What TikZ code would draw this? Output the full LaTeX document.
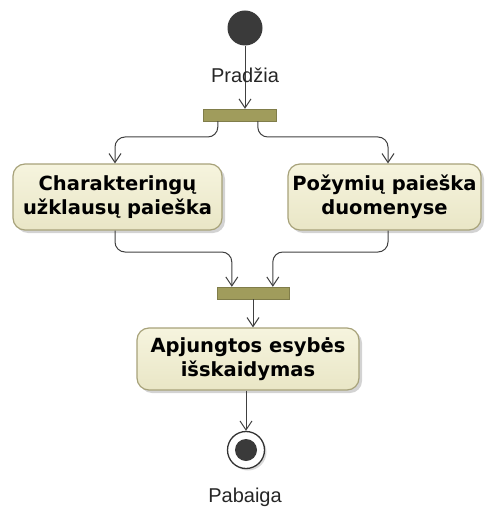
\documentclass[tikz,border=0pt]{standalone}
\usepackage{fontspec}
\setmainfont{Liberation Sans}
\newfontfamily\boxfont{DejaVu Sans}
\usetikzlibrary{arrows.meta,shadows}
\definecolor{boxfill}{HTML}{F6F4DE}
\definecolor{boxfilldark}{HTML}{E9E6C6}
\definecolor{boxline}{HTML}{A7A27A}
\definecolor{barfill}{HTML}{A09C5C}
\definecolor{flowline}{HTML}{404040}
\definecolor{startfill}{HTML}{3A3A3A}
\begin{document}
\begin{tikzpicture}[x=1pt,y=-1pt,
  action/.style={draw=boxline, line width=1.2pt, rounded corners=12pt,
    top color=boxfill, bottom color=boxfilldark,
    drop shadow={shadow xshift=3pt, shadow yshift=-3pt, opacity=0.35, fill=gray},
    align=center, font=\boxfont\bfseries\fontsize{19.5}{24}\selectfont,
    inner sep=0pt},
  syncbar/.style={fill=barfill, draw=barfill!80!black, line width=0.4pt, inner sep=0pt},
  flow/.style={draw=flowline, line width=1pt, rounded corners=10pt,
    -{Straight Barb[length=9pt,width=12pt,line width=1pt]}},
  lbl/.style={font=\fontsize{20}{24}\selectfont, text=black!85}
]
\useasboundingbox (0,0) rectangle (486,513);

% rows where the branching flows turn
\coordinate (forkrow) at (0,137);
\coordinate (joinrow) at (0,252);

% initial node
\node[circle, fill=startfill, minimum size=35pt, inner sep=0pt] (start) at (245,28) {};

% fork bar
\node[syncbar, minimum width=73pt, minimum height=12pt] (fork) at (239.5,115) {};

% parallel actions
\node[action, minimum width=209pt, minimum height=66pt] (charq) at (117.5,197)
  {Charakteringų\\užklausų paieška};
\node[action, minimum width=193pt, minimum height=66pt] (feat) at (384.5,197)
  {Požymių paieška\\duomenyse};

% join bar
\node[syncbar, minimum width=72pt, minimum height=12pt] (join) at (253,293) {};

% merged action
\node[action, minimum width=222pt, minimum height=62pt] (merge) at (248,359)
  {Apjungtos esybės\\išskaidymas};

% final node
\node[circle, draw=black!80, line width=1.3pt, fill=white, minimum size=37pt, inner sep=0pt,
  drop shadow={shadow xshift=2pt, shadow yshift=-2pt, opacity=0.3, fill=gray}] (final) at (246,450) {};
\node[circle, fill=startfill, minimum size=22pt, inner sep=0pt] (finaldot) at (final) {};

% control flows
\draw[flow] (start.south) -- (start.south |- fork.north);
\draw[flow] ([xshift=15pt]fork.south west) |- ([xshift=-2.5pt]charq.north |- forkrow)
  -- ([xshift=-2.5pt]charq.north);
\draw[flow] ([xshift=55pt]fork.south west) |- ([xshift=3.5pt]feat.north |- forkrow)
  -- ([xshift=3.5pt]feat.north);
\draw[flow] ([xshift=-2.5pt]charq.south) |- ([xshift=15pt]join.north west |- joinrow)
  -- ([xshift=15pt]join.north west);
\draw[flow] ([xshift=3.5pt]feat.south) |- ([xshift=56pt]join.north west |- joinrow)
  -- ([xshift=56pt]join.north west);
\draw[flow] (join.south) -- (join.south |- merge.north);
\draw[flow] ([xshift=-2pt]merge.south) -- ([xshift=-2pt]merge.south |- final.north);

% node labels
\node[lbl] (startlbl) at (245,75) {Pradžia};
\node[lbl] (finallbl) at (245,497) {Pabaiga};
\end{tikzpicture}
\end{document}
